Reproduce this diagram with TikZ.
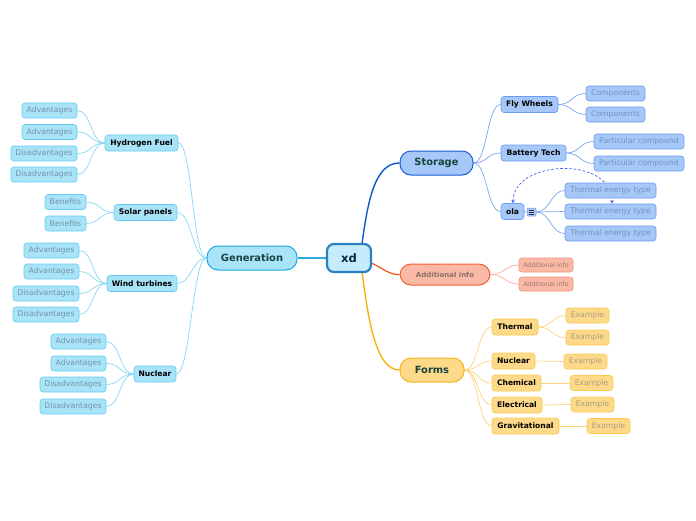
\documentclass[tikz,border=0pt]{standalone}
\usepackage{fontspec}
\setmainfont{DejaVu Sans}
\usetikzlibrary{arrows.meta,backgrounds}
\definecolor{rootfill}{HTML}{C5ECFB}
\definecolor{rootdraw}{HTML}{2A80C2}
\definecolor{roottext}{HTML}{0B2545}
\definecolor{gfill}{HTML}{A9E3F8}
\definecolor{gdraw}{HTML}{1BA6E3}
\definecolor{gline}{HTML}{29ABE2}
\definecolor{gsub}{HTML}{63CBF2}
\definecolor{gsubline}{HTML}{86D6F6}
\definecolor{gleaftext}{HTML}{7395A6}
\definecolor{sfill}{HTML}{A6C8F9}
\definecolor{sdraw}{HTML}{1A5CD4}
\definecolor{sline}{HTML}{0B57D0}
\definecolor{ssub}{HTML}{6A9CF2}
\definecolor{ssubline}{HTML}{7AA6F2}
\definecolor{sleaftext}{HTML}{7690BA}
\definecolor{afill}{HTML}{F9B9A6}
\definecolor{adraw}{HTML}{F2602E}
\definecolor{aline}{HTML}{F2501E}
\definecolor{asub}{HTML}{F6907A}
\definecolor{asubline}{HTML}{F8A890}
\definecolor{atext}{HTML}{8C6E66}
\definecolor{aleaftext}{HTML}{9C766C}
\definecolor{ffill}{HTML}{FDD98A}
\definecolor{fdraw}{HTML}{F6B31C}
\definecolor{fline}{HTML}{F8B20C}
\definecolor{fsub}{HTML}{FBC852}
\definecolor{fsubline}{HTML}{FDD27A}
\definecolor{fleaftext}{HTML}{AC9E82}
\definecolor{maintext}{HTML}{16443C}
\definecolor{dashblue}{HTML}{3A5CF0}
\tikzset{
  box/.style={rectangle, inner sep=0pt, align=center},
  rootbox/.style={box, draw=rootdraw, line width=2.2pt, fill=rootfill, rounded corners=7pt,
    text=roottext, font=\bfseries\fontsize{11.6}{12}\selectfont, minimum width=44pt, minimum height=28pt},
  mainbox/.style={box, line width=1pt, rounded corners=11pt, minimum height=24pt,
    font=\bfseries\fontsize{9.9}{10}\selectfont, text=maintext},
  subbox/.style={box, line width=0.6pt, rounded corners=3pt, minimum height=16pt,
    font=\bfseries\fontsize{7.6}{8}\selectfont, text=black},
  leafbox/.style={box, line width=0.6pt, rounded corners=3pt, minimum height=15pt,
    font=\fontsize{7.7}{8}\selectfont},
  gsubbox/.style={subbox, draw=gsub, fill=gfill},
  gleaf/.style={leafbox, draw=gsub, fill=gfill, text=gleaftext},
  ssubbox/.style={subbox, draw=ssub, fill=sfill},
  sleaf/.style={leafbox, draw=ssub, fill=sfill, text=sleaftext},
  fsubbox/.style={subbox, draw=fsub, fill=ffill},
  fleaf/.style={leafbox, draw=fsub, fill=ffill, text=fleaftext},
  aleaf/.style={leafbox, draw=asub, fill=afill, text=aleaftext, minimum height=14pt,
    font=\fontsize{6.3}{7}\selectfont},
  gedge/.style={draw=gsubline, line width=0.7pt},
  sedge/.style={draw=ssubline, line width=0.7pt},
  aedge/.style={draw=asubline, line width=0.7pt},
  fedge/.style={draw=fsubline, line width=0.7pt},
}
\newcommand{\lcurve}[3]{\draw[#1] (#2.west) .. controls +(-14pt,0pt) and +(14pt,0pt) .. (#3.east);}
\newcommand{\rcurve}[3]{\draw[#1] (#2.east) .. controls +(14pt,0pt) and +(-14pt,0pt) .. (#3.west);}
\begin{document}
\begin{tikzpicture}[x=1pt,y=-1pt]
\useasboundingbox (0,0) rectangle (696,520);
% root and main topics
\node[rootbox] (root) at (349,258) {xd};
\node[mainbox, draw=gdraw, fill=gfill, minimum width=90pt] (g) at (252,258) {Generation};
\node[mainbox, draw=sdraw, fill=sfill, minimum width=73pt] (s) at (436.5,163) {Storage};
\node[mainbox, draw=adraw, fill=afill, minimum width=90pt, minimum height=21pt, text=atext,
  font=\bfseries\fontsize{7}{8}\selectfont] (a) at (445,274.5) {Additional info};
\node[mainbox, draw=fdraw, fill=ffill, minimum width=64pt] (f) at (432,370) {Forms};
% Generation
\node[gsubbox, minimum width=73pt] (g1) at (141.5,143) {Hydrogen Fuel};
\node[gsubbox, minimum width=63pt] (g2) at (145.5,212.5) {Solar panels};
\node[gsubbox, minimum width=70pt] (g3) at (142,283.5) {Wind turbines};
\node[gsubbox, minimum width=42pt] (g4) at (155,374) {Nuclear};
\node[gleaf, minimum width=55pt] (g1a) at (49.5,110.5) {Advantages};
\node[gleaf, minimum width=55pt] (g1b) at (49.5,132) {Advantages};
\node[gleaf, minimum width=66pt] (g1c) at (44,153.5) {Disadvantages};
\node[gleaf, minimum width=66pt] (g1d) at (44,174.5) {Disadvantages};
\node[gleaf, minimum width=41pt] (g2a) at (65.5,202) {Benefits};
\node[gleaf, minimum width=41pt] (g2b) at (65.5,223.5) {Benefits};
\node[gleaf, minimum width=55pt] (g3a) at (51.5,250.5) {Advantages};
\node[gleaf, minimum width=55pt] (g3b) at (51.5,271.5) {Advantages};
\node[gleaf, minimum width=66pt] (g3c) at (46,293.5) {Disadvantages};
\node[gleaf, minimum width=66pt] (g3d) at (46,314.5) {Disadvantages};
\node[gleaf, minimum width=55pt] (g4a) at (78.5,341.5) {Advantages};
\node[gleaf, minimum width=55pt] (g4b) at (78.5,363.5) {Advantages};
\node[gleaf, minimum width=66pt] (g4c) at (73,384.5) {Disadvantages};
\node[gleaf, minimum width=66pt] (g4d) at (73,406.5) {Disadvantages};
% Storage
\node[ssubbox, minimum width=57pt] (s1) at (529.5,104.5) {Fly Wheels};
\node[ssubbox, minimum width=65pt] (s2) at (533.5,153) {Battery Tech};
\node[ssubbox, minimum width=23pt] (s3) at (512.5,211.5) {ola};
\node[box, draw=ssub, fill=sfill, line width=0.5pt, rounded corners=1pt, minimum width=9pt, minimum height=8pt] (icon) at (531.5,212) {};
\draw[black!80, line width=0.6pt] (529.2,209.8) -- (533.8,209.8) (529.2,212) -- (533.8,212) (529.2,214.2) -- (533.8,214.2);
\node[sleaf, minimum width=59pt] (s1a) at (615.5,93.5) {Components};
\node[sleaf, minimum width=59pt] (s1b) at (615.5,114.5) {Components};
\node[sleaf, minimum width=90pt] (s2a) at (639,141.5) {Particular compound};
\node[sleaf, minimum width=90pt] (s2b) at (639,163.5) {Particular compound};
\node[sleaf, minimum width=91pt] (s3a) at (610.5,190.5) {Thermal energy type};
\node[sleaf, minimum width=91pt] (s3b) at (610.5,211.5) {Thermal energy type};
\node[sleaf, minimum width=91pt] (s3c) at (610.5,233.5) {Thermal energy type};
% Additional info
\node[aleaf, minimum width=54pt] (a1) at (546,265) {Additional info};
\node[aleaf, minimum width=54pt] (a2) at (546,284) {Additional info};
% Forms
\node[fsubbox, minimum width=46pt] (f1) at (515,327) {Thermal};
\node[fsubbox, minimum width=43pt] (f2) at (513.5,361) {Nuclear};
\node[fsubbox, minimum width=49pt] (f3) at (516.5,383) {Chemical};
\node[fsubbox, minimum width=50pt] (f4) at (517,405) {Electrical};
\node[fsubbox, minimum width=67pt] (f5) at (525.5,426) {Gravitational};
\node[fleaf, minimum width=43pt] (f1a) at (587.5,315.5) {Example};
\node[fleaf, minimum width=43pt] (f1b) at (587.5,337.5) {Example};
\node[fleaf, minimum width=43pt] (f2a) at (585.5,361.5) {Example};
\node[fleaf, minimum width=43pt] (f3a) at (591.5,383) {Example};
\node[fleaf, minimum width=43pt] (f4a) at (592.5,404.5) {Example};
\node[fleaf, minimum width=43pt] (f5a) at (608.5,426) {Example};
% connectors
\begin{scope}[on background layer]
\draw[gline, line width=1.2pt] (root.west) -- (g.east);
\draw[sline, line width=1.4pt] (root.49) .. controls (368,200) and (375,163) .. (s.west);
\draw[aline, line width=1.2pt] (root.-13) .. controls (386,270) and (388,274.5) .. (a.west);
\draw[fline, line width=1.4pt] (root.-49) .. controls (368,316) and (375,370) .. (f.west);
\foreach \c in {g1,g2,g3,g4} {\lcurve{gedge}{g}{\c}}
\foreach \c in {g1a,g1b,g1c,g1d} {\lcurve{gedge}{g1}{\c}}
\foreach \c in {g2a,g2b} {\lcurve{gedge}{g2}{\c}}
\foreach \c in {g3a,g3b,g3c,g3d} {\lcurve{gedge}{g3}{\c}}
\foreach \c in {g4a,g4b,g4c,g4d} {\lcurve{gedge}{g4}{\c}}
\foreach \c in {s1,s2,s3} {\rcurve{sedge}{s}{\c}}
\foreach \c in {s1a,s1b} {\rcurve{sedge}{s1}{\c}}
\foreach \c in {s2a,s2b} {\rcurve{sedge}{s2}{\c}}
\draw[sedge] (s3.east) -- (icon.west);
\foreach \c in {s3a,s3b,s3c} {\rcurve{sedge}{icon}{\c}}
\foreach \c in {a1,a2} {\rcurve{aedge}{a}{\c}}
\foreach \c in {f1,f2,f3,f4,f5} {\rcurve{fedge}{f}{\c}}
\foreach \c in {f1a,f1b} {\rcurve{fedge}{f1}{\c}}
\rcurve{fedge}{f2}{f2a}
\rcurve{fedge}{f3}{f3a}
\rcurve{fedge}{f4}{f4a}
\rcurve{fedge}{f5}{f5a}
\draw[dashblue, line width=0.7pt, dash pattern=on 2.5pt off 2pt,
  {Stealth[length=3.5pt,width=3.5pt]}-{Stealth[length=3.5pt,width=3.5pt]}]
  ([xshift=0.5pt]s3.north) .. controls (513,160) and (612,155) .. ([xshift=1.5pt]s3b.north);
\end{scope}
\end{tikzpicture}
\end{document}
